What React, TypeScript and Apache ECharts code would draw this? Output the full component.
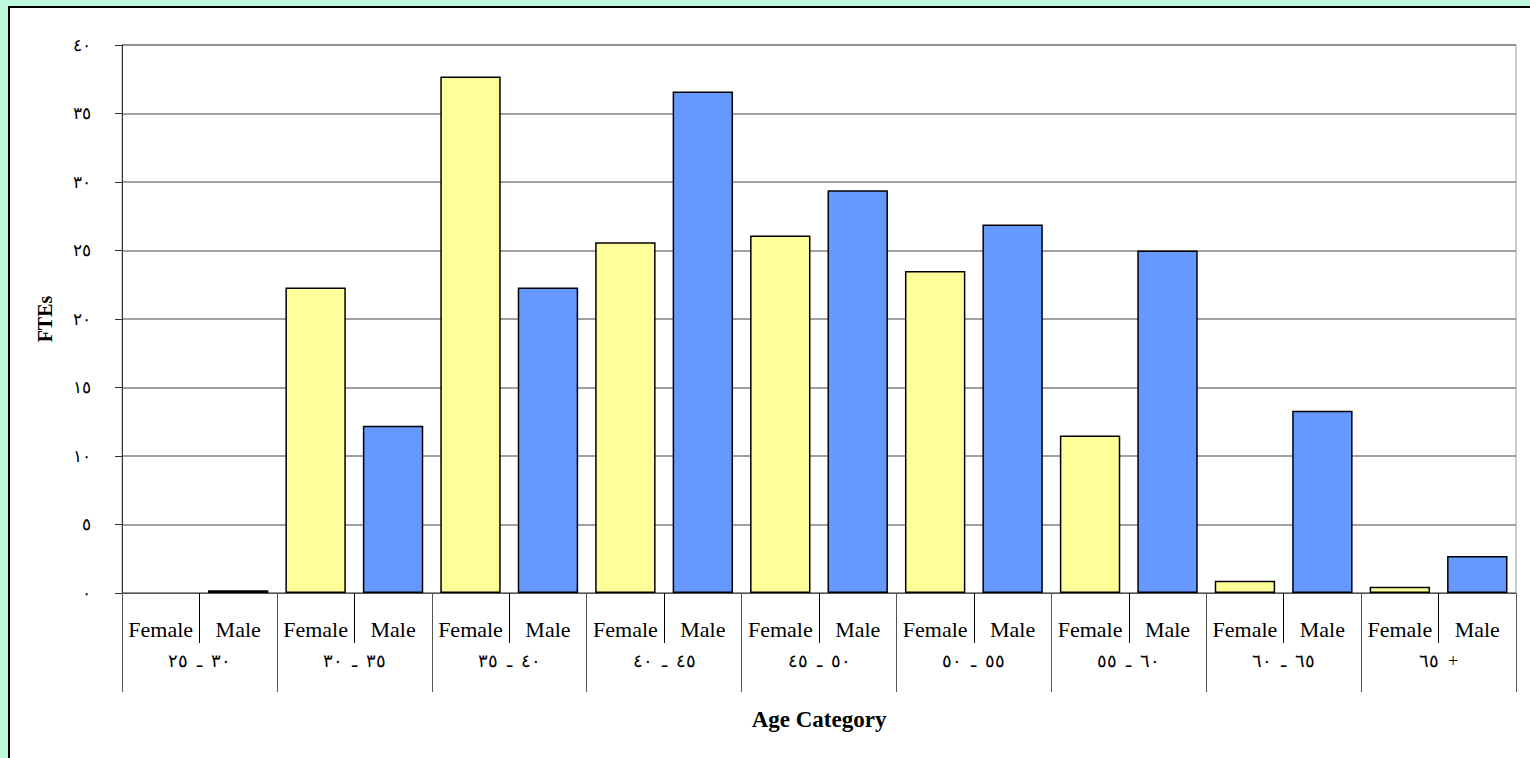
import React, { useEffect, useRef } from "react";
import * as echarts from "echarts";

const SEP = "\u200E\u2002ـ\u2002\u200E";
const ageGroups = [
  "٢٥" + SEP + "٣٠",
  "٣٠" + SEP + "٣٥",
  "٣٥" + SEP + "٤٠",
  "٤٠" + SEP + "٤٥",
  "٤٥" + SEP + "٥٠",
  "٥٠" + SEP + "٥٥",
  "٥٥" + SEP + "٦٠",
  "٦٠" + SEP + "٦٥",
  "٦٥\u200E\u2002+",
];
const genders = ["Female", "Male"];
const femaleValues = [0, 22.3, 37.7, 25.6, 26.1, 23.5, 11.5, 0.9, 0.45];
const maleValues = [0.2, 12.2, 22.3, 36.6, 29.4, 26.9, 25.0, 13.3, 2.7];
const yTickLabels = ["٠", "٥", "١٠", "١٥", "٢٠", "٢٥", "٣٠", "٣٥", "٤٠"];

const FEMALE_COLOR = "#ffff99";
const MALE_COLOR = "#6699ff";
const MINT = "#bdf9dd";

export default function App() {
  const ref = useRef<HTMLDivElement>(null);

  useEffect(() => {
    if (!ref.current) return;
    const chart = echarts.init(ref.current, null, { renderer: "svg" });

    const subCats: string[] = [];
    const barData: any[] = [];
    const item = (v: number, color: string) => ({
      value: v,
      itemStyle: v === 0 ? { color, borderWidth: 0 } : { color },
    });
    ageGroups.forEach((_, i) => {
      subCats.push(genders[0], genders[1]);
      barData.push(item(femaleValues[i], FEMALE_COLOR));
      barData.push(item(maleValues[i], MALE_COLOR));
    });

    const serif = "'Liberation Serif', 'Times New Roman', serif";

    chart.setOption({
      animation: false,
      backgroundColor: "#ffffff",
      graphic: [
        {
          type: "rect",
          z: -10,
          silent: true,
          shape: { x: 0, y: 0, width: 1530, height: 6 },
          style: { fill: MINT },
        },
        {
          type: "rect",
          z: -10,
          silent: true,
          shape: { x: 0, y: 0, width: 8, height: 758 },
          style: { fill: MINT },
        },
        {
          type: "line",
          z: -9,
          silent: true,
          shape: { x1: 8, y1: 7, x2: 1530, y2: 7 },
          style: { stroke: "#000000", lineWidth: 2 },
        },
        {
          type: "line",
          z: -9,
          silent: true,
          shape: { x1: 9, y1: 6, x2: 9, y2: 758 },
          style: { stroke: "#000000", lineWidth: 2 },
        },
      ],
      grid: {
        left: 122,
        right: 14,
        top: 45,
        bottom: 165,
        show: true,
        backgroundColor: "#ffffff",
        borderColor: "#999999",
        borderWidth: 1,
      },
      xAxis: [
        {
          type: "category",
          data: subCats,
          position: "bottom",
          axisLine: { show: true, lineStyle: { color: "#555555", width: 1 } },
          axisTick: { show: true, interval: 0, length: 50, lineStyle: { color: "#000000" } },
          axisLabel: {
            interval: 0,
            margin: 25,
            color: "#000000",
            fontFamily: serif,
            fontSize: 22,
          },
          splitLine: { show: false },
        },
        {
          type: "category",
          data: ageGroups,
          position: "bottom",
          axisLine: { show: false },
          axisTick: { show: true, interval: 0, length: 99, lineStyle: { color: "#555555" } },
          axisLabel: {
            interval: 0,
            margin: 59,
            color: "#000000",
            fontFamily: serif,
            fontSize: 18,
          },
          name: "Age Category",
          nameLocation: "middle",
          nameGap: 115,
          nameTextStyle: {
            color: "#000000",
            fontFamily: serif,
            fontWeight: "bold",
            fontSize: 23,
          },
        },
      ],
      yAxis: {
        type: "value",
        min: 0,
        max: 40,
        interval: 5,
        name: "FTEs",
        nameLocation: "middle",
        nameGap: 67,
        nameRotate: 90,
        nameTextStyle: {
          color: "#000000",
          fontFamily: serif,
          fontWeight: "bold",
          fontSize: 20,
        },
        axisLine: { show: true, lineStyle: { color: "#333333", width: 1 } },
        axisTick: { show: true, length: 7, lineStyle: { color: "#333333" } },
        axisLabel: {
          margin: 31,
          color: "#000000",
          fontFamily: serif,
          fontSize: 17,
          formatter: (v: number) => yTickLabels[Math.round(v / 5)] ?? "",
        },
        splitLine: { show: true, lineStyle: { color: "#808080", width: 1.5 } },
      },
      series: [
        {
          type: "bar",
          xAxisIndex: 0,
          data: barData,
          barCategoryGap: "22%",
          itemStyle: { borderColor: "#000000", borderWidth: 1.5 },
        },
      ],
    });

    return () => chart.dispose();
  }, []);

  return (
    <div
      ref={ref}
      style={{ position: "fixed", left: 0, top: 0, width: 1530, height: 758 }}
    />
  );
}
